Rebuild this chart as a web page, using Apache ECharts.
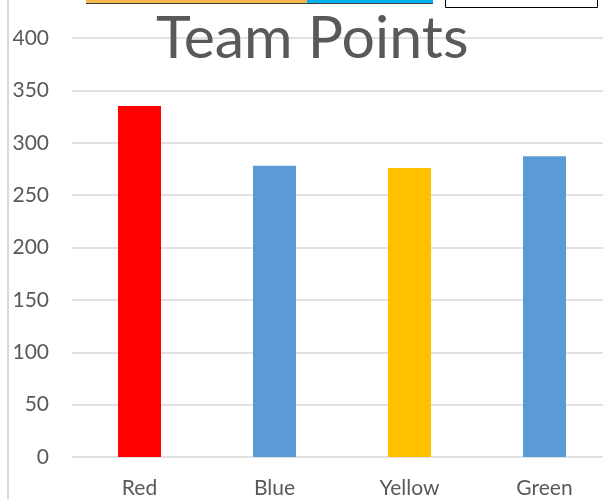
<!DOCTYPE html>
<html>
<head>
<meta charset="utf-8">
<script src="https://cdn.jsdelivr.net/npm/echarts@6/dist/echarts.min.js"></script>
<style>
  html, body { margin: 0; padding: 0; background: #fff; overflow: hidden; }
  /* 图表区域右侧超出画面，与原图一致 */
  #chart { width: 612px; height: 499px; }
</style>
</head>
<body>
<div id="chart"></div>
<script>
// 数据
var teams = ['Red', 'Blue', 'Yellow', 'Green'];
var points = [335, 278, 276, 287];
var barColors = ['#FF0000', '#5B9BD5', '#FFC000', '#5B9BD5'];
var yTicks = [0, 50, 100, 150, 200, 250, 300, 350, 400];

var myChart = echarts.init(document.getElementById('chart'));

var option = {
    animation: false,
    title: {
        text: 'Team Points',
        left: 151,
        top: 4,
        textStyle: {
            fontFamily: 'Lato',
            fontSize: 59,
            fontWeight: 'normal',
            color: '#595959'
        }
    },
    grid: {
        left: 72,
        right: 0,
        top: 38,
        bottom: 41,
        containLabel: false
    },
    xAxis: {
        type: 'category',
        data: teams,
        axisLine: { show: false },
        axisTick: { show: false },
        axisLabel: {
            margin: 21,
            fontFamily: 'Lato',
            fontSize: 21,
            color: '#595959'
        }
    },
    yAxis: {
        type: 'value',
        min: yTicks[0],
        max: yTicks[yTicks.length - 1],
        interval: 50,
        axisLine: { show: false },
        axisTick: { show: false },
        axisLabel: {
            margin: 23,
            fontFamily: 'Lato',
            fontSize: 21,
            color: '#595959'
        },
        splitLine: {
            lineStyle: { color: '#D9D9D9', width: 1.5 }
        }
    },
    series: [{
        type: 'bar',
        barWidth: 43,
        data: points.map(function (v, i) {
            return { value: v, itemStyle: { color: barColors[i] } };
        })
    }],
    graphic: [
        // 左侧竖线
        { type: 'line', shape: { x1: 8, y1: 0, x2: 8, y2: 499 }, style: { stroke: '#D9D9D9', lineWidth: 2 } },
        // 顶部残留
        { type: 'rect', shape: { x: 86, y: 0, width: 221, height: 3 }, style: { fill: '#F5B64E' } },
        { type: 'rect', shape: { x: 307, y: 0, width: 126, height: 3 }, style: { fill: '#00B0F0' } },
        { type: 'line', shape: { x1: 86, y1: 3.5, x2: 433, y2: 3.5 }, style: { stroke: '#404040', lineWidth: 1 } },
        { type: 'rect', shape: { x: 445.5, y: -2, width: 152, height: 9.5 }, style: { fill: '#fff', stroke: '#000', lineWidth: 1 } }
    ]
};

myChart.setOption(option);
</script>
</body>
</html>
